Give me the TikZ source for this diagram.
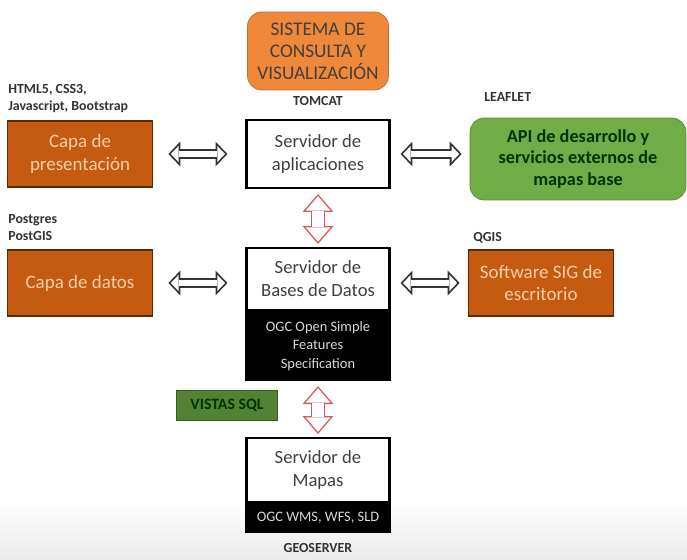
\documentclass[tikz,border=0pt]{standalone}
\usepackage{fontspec}
\setmainfont{Carlito}
\usetikzlibrary{positioning,arrows.meta}

\definecolor{naranja}{HTML}{F0883A}
\definecolor{naranjaosc}{HTML}{C55A11}
\definecolor{naranjaborde}{HTML}{5A2A08}
\definecolor{naranjatexto}{HTML}{F9CFA8}
\definecolor{verde}{HTML}{70AD47}
\definecolor{verdeosc}{HTML}{548235}
\definecolor{rojo}{HTML}{D9383A}

\tikzset{
  caja/.style={draw=black, line width=1.2pt, fill=white, minimum width=2.86cm,
    minimum height=1.36cm, align=center, text=black!75,
    font=\fontsize{10.6}{13}\selectfont},
  capa/.style={draw=naranjaborde, line width=1pt, fill=naranjaosc, text=naranjatexto,
    minimum width=2.9cm, minimum height=1.32cm, align=center,
    font=\fontsize{10.8}{13}\selectfont},
  spec/.style={draw=black, line width=1.2pt, fill=black, text=white!85!black,
    minimum width=2.86cm, minimum height=1.36cm, align=center,
    font=\fontsize{8.2}{10.3}\selectfont},
  etiqueta/.style={font=\fontsize{7.9}{9.6}\selectfont\bfseries, text=black!80,
    align=left, inner sep=0pt},
  % hollow double arrow: outer stroke, then white inside
  flecha/.style 2 args={draw=black!80, line width=5.7pt,
    {Triangle[length=6.8pt,width=14.2pt,line width=0pt]}-{Triangle[length=6.8pt,width=14.2pt,line width=0pt]},
    shorten <=#1, shorten >=#2,
    postaction={draw=white, line width=3.7pt,
      {Triangle[length=4.4pt,width=9.2pt,line width=0pt]}-{Triangle[length=4.4pt,width=9.2pt,line width=0pt]},
      shorten <=#1+1.39pt, shorten >=#2+1.39pt}},
  flecharoja/.style 2 args={draw=rojo!85, line width=7.9pt,
    {Triangle[length=10.2pt,width=17.6pt,line width=0pt]}-{Triangle[length=10.2pt,width=17.6pt,line width=0pt]},
    shorten <=#1, shorten >=#2,
    postaction={draw=white, line width=6.3pt,
      {Triangle[length=8.2pt,width=14.1pt,line width=0pt]}-{Triangle[length=8.2pt,width=14.1pt,line width=0pt]},
      shorten <=#1+1.23pt, shorten >=#2+1.23pt}}
}

\begin{document}
\begin{tikzpicture}[x=0.02cm, y=-0.02cm]
\useasboundingbox (0,0) rectangle (687,560);
\shade[top color=white, bottom color=black!8] (0,500) rectangle (687,560);

\node[draw=naranja!80!black, fill=naranja, rounded corners=8pt, minimum width=2.82cm,
  minimum height=1.56cm, align=center, text=black!75,
  font=\fontsize{11}{12.5}\selectfont] (sistema) at (318,51)
  {SISTEMA DE\\CONSULTA Y\\VISUALIZACIÓN};
\node[etiqueta] (tomcat) at (318,101) {TOMCAT};
\node[caja] (aplic) at (318,154) {Servidor de\\aplicaciones};

\node[etiqueta, anchor=south west] (html) at (8,113) {HTML5, CSS3,\\Javascript, Bootstrap};
\node[capa] (presen) at (80,154) {Capa de\\presentación};

\node[etiqueta, anchor=west] (leaflet) at (484,97) {LEAFLET};
\node[draw=verde!80!black, fill=verde, rounded corners=8pt, minimum width=4.32cm,
  minimum height=1.64cm, align=center, text=black!80!green,
  font=\fontsize{10.4}{12.5}\selectfont\bfseries] (api) at (578,159)
  {API de desarrollo y\\servicios externos de\\mapas base};

\node[etiqueta, anchor=south west] (postgres) at (8,241) {Postgres\\PostGIS};
\node[capa] (datos) at (80,283) {Capa de datos};

\node[caja, minimum height=1.24cm] (bd) at (318,279) {Servidor de\\Bases de Datos};
\node[spec, below=0pt of bd] (ogcsf) {OGC Open Simple\\Features\\Specification};

\node[etiqueta, anchor=west] (qgis) at (473,238) {QGIS};
\node[capa] (sig) at (541,283) {Software SIG de\\escritorio};

\node[draw=verdeosc!70!black, fill=verdeosc, minimum width=2.02cm, minimum height=0.6cm,
  text=black!80!green, font=\fontsize{9}{10}\selectfont\bfseries] (vistas) at (227,405)
  {VISTAS SQL};

\node[caja, minimum height=1.28cm] (mapas) at (318,470) {Servidor de\\Mapas};
\node[spec, below=0pt of mapas, minimum height=0.56cm] (ogcwms) {OGC WMS, WFS, SLD};
\node[etiqueta] (geoserver) at (318,548) {GEOSERVER};

\draw[flecha={0.3cm}{0.36cm}] (presen) -- (aplic);
\draw[flecha={0.2cm}{0.16cm}] (aplic) -- (aplic -| api.west);
\draw[flecharoja={0.1cm}{0.06cm}] (aplic) -- (bd);
\draw[flecha={0.3cm}{0.36cm}] (datos -| presen.east) -- (datos -| bd.west);
\draw[flecha={0.2cm}{0.16cm}] (bd.east |- sig) -- (sig);
\draw[flecharoja={0.1cm}{0.06cm}] (ogcsf) -- (mapas);
\end{tikzpicture}
\end{document}
